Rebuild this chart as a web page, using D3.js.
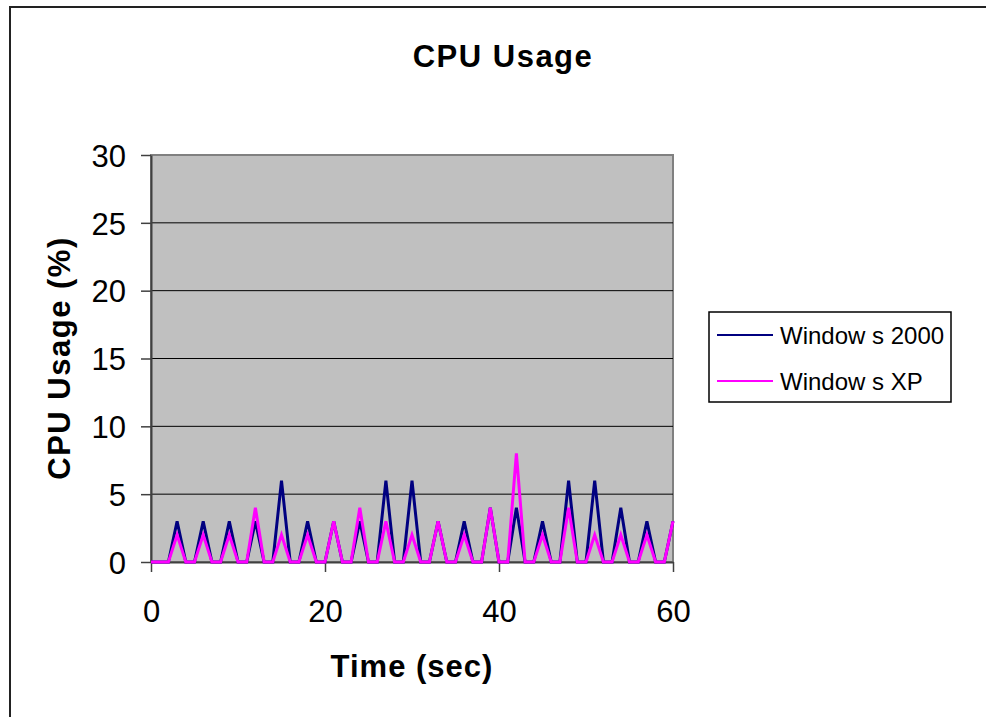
<!DOCTYPE html>
<html>
<head>
<meta charset="utf-8">
<script src="https://cdn.jsdelivr.net/npm/d3@7"></script>
<style>
body { margin: 0; background: #fff; }
svg { display: block; font-family: "Liberation Sans", Arial, sans-serif; }
</style>
</head>
<body>
<svg width="986" height="717"></svg>
<script>
// seconds 0..60, one sample per second
var win2000 = [0,0,0, 3,0,0, 3,0,0, 3,0,0, 3,0,0, 6,0,0, 3,0,0, 3,0,0, 3,0,0, 6,0,0,
               6,0,0, 3,0,0, 3,0,0, 4,0,0, 4,0,0, 3,0,0, 6,0,0, 6,0,0, 4,0,0, 3,0,0, 3];
var winXP   = [0,0,0, 2,0,0, 2,0,0, 2,0,0, 4,0,0, 2,0,0, 2,0,0, 3,0,0, 4,0,0, 3,0,0,
               2,0,0, 3,0,0, 2,0,0, 4,0,0, 8,0,0, 2,0,0, 4,0,0, 2,0,0, 2,0,0, 2,0,0, 3];
var seriesNames = ["Window s 2000", "Window s XP"];
var seriesColors = ["#000080", "#ff00ff"];
var xTicks = [0, 20, 40, 60];
var yTicks = [0, 5, 10, 15, 20, 25, 30];

var svg = d3.select("svg");

// outer chart frame (runs off the right/bottom of the picture)
svg.append("rect")
  .attr("x", 10).attr("y", 7)
  .attr("width", 1000).attr("height", 740)
  .attr("fill", "none").attr("stroke", "#222").attr("stroke-width", 2);

var pL = 151, pT = 155, pR = 673, pB = 562;

var x = d3.scaleLinear().domain([0, 60]).range([pL, pR]);
var y = d3.scaleLinear().domain([0, 30]).range([pB, pT]);

// plot area
svg.append("rect")
  .attr("x", pL).attr("y", pT)
  .attr("width", pR - pL).attr("height", pB - pT)
  .attr("fill", "#c0c0c0").attr("stroke", "#808080").attr("stroke-width", 2);

// gridlines
svg.append("g").selectAll("line")
  .data(yTicks.filter(function(d) { return d > 0 && d < 30; }))
  .enter().append("line")
    .attr("x1", pL).attr("x2", pR)
    .attr("y1", function(d) { return y(d); })
    .attr("y2", function(d) { return y(d); })
    .attr("stroke", "#000").attr("stroke-width", 1);

// axes
var yAxis = svg.append("g")
  .attr("transform", "translate(" + pL + ",0)")
  .call(d3.axisLeft(y).tickValues(yTicks).tickSize(10).tickPadding(15).tickSizeOuter(0));
var xAxis = svg.append("g")
  .attr("transform", "translate(0," + pB + ")")
  .call(d3.axisBottom(x).tickValues(xTicks).tickSize(10).tickSizeOuter(0));

[yAxis, xAxis].forEach(function(a) {
  a.select(".domain").attr("stroke", "#404040").attr("stroke-width", 2);
  a.selectAll(".tick line").attr("stroke", "#404040").attr("stroke-width", 1.5);
  a.selectAll("text")
    .attr("fill", "#000")
    .style("font-family", "'Liberation Sans', Arial, sans-serif")
    .style("font-size", "31px");
});
yAxis.selectAll("text").attr("dy", "0.36em");
xAxis.selectAll("text").attr("dy", null).attr("y", 60);

// series lines (XP drawn last, on top)
var line = d3.line()
  .x(function(d, i) { return x(i); })
  .y(function(d) { return y(d); });

[win2000, winXP].forEach(function(s, k) {
  svg.append("path")
    .datum(s)
    .attr("d", line)
    .attr("fill", "none")
    .attr("stroke", seriesColors[k])
    .attr("stroke-width", 3)
    .attr("stroke-linejoin", "miter");
});

// titles
svg.append("text")
  .attr("x", 503).attr("y", 67)
  .attr("text-anchor", "middle")
  .style("font-size", "31px").style("font-weight", "bold").style("letter-spacing", "1.5px")
  .text("CPU Usage");

svg.append("text")
  .attr("x", 412).attr("y", 677)
  .attr("text-anchor", "middle")
  .style("font-size", "31px").style("font-weight", "bold").style("letter-spacing", "1px")
  .text("Time (sec)");

svg.append("text")
  .attr("transform", "translate(70,358) rotate(-90)")
  .attr("text-anchor", "middle")
  .style("font-size", "31px").style("font-weight", "bold").style("letter-spacing", "1.5px")
  .text("CPU Usage (%)");

// legend
var legend = svg.append("g");
legend.append("rect")
  .attr("x", 709).attr("y", 312)
  .attr("width", 242).attr("height", 90)
  .attr("fill", "#fff").attr("stroke", "#000").attr("stroke-width", 1.5);

var items = legend.selectAll("g.item")
  .data(seriesNames)
  .enter().append("g")
    .attr("class", "item")
    .attr("transform", function(d, i) { return "translate(0," + (335 + i * 46) + ")"; });

items.append("line")
  .attr("x1", 717).attr("x2", 773)
  .attr("stroke", function(d, i) { return seriesColors[i]; })
  .attr("stroke-width", 2);

items.append("text")
  .attr("x", 780).attr("y", 9)
  .style("font-size", "24px")
  .text(function(d) { return d; });
</script>
</body>
</html>
